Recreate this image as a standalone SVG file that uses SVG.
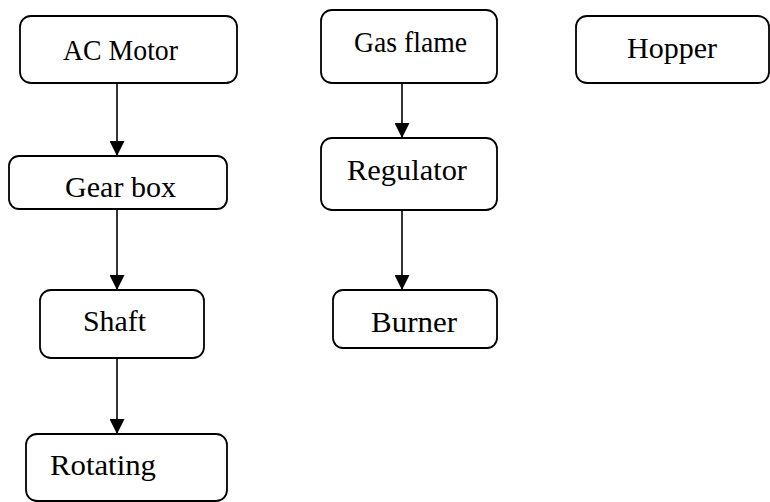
<svg xmlns="http://www.w3.org/2000/svg" width="770" height="502" viewBox="0 0 770 502">
<defs>
<marker id="ah" markerUnits="userSpaceOnUse" markerWidth="15" markerHeight="15" refX="15" refY="7.5" orient="auto" viewBox="0 0 15 15">
<path d="M0,0 L15,7.5 L0,15 z" fill="#000"/>
</marker>
<style>
.box{fill:#fff;stroke:#000;stroke-width:1.8}
.lbl{font-family:"Liberation Serif","Times New Roman",serif;font-size:30px;fill:#000}
.con{stroke:#000;stroke-width:1.6;fill:none;marker-end:url(#ah)}
</style>
</defs>
<rect width="770" height="502" fill="#fff"/>
<g id="connectors">
<line class="con" x1="117" y1="83" x2="117" y2="156"/>
<line class="con" x1="117" y1="209" x2="117" y2="290"/>
<line class="con" x1="117" y1="358" x2="117" y2="434"/>
<line class="con" x1="402" y1="83" x2="402" y2="138"/>
<line class="con" x1="402" y1="210" x2="402" y2="290"/>
</g>
<g id="ac-motor"><rect class="box" x="20" y="16" width="217" height="67" rx="11"/><text class="lbl" x="63" y="60" textLength="115" lengthAdjust="spacingAndGlyphs">AC Motor</text></g>
<g id="gear-box"><rect class="box" x="9" y="156" width="218" height="53" rx="10"/><text class="lbl" x="65" y="197" textLength="111" lengthAdjust="spacingAndGlyphs">Gear box</text></g>
<g id="shaft"><rect class="box" x="40" y="290" width="164" height="68" rx="11"/><text class="lbl" x="83" y="331" textLength="63" lengthAdjust="spacingAndGlyphs">Shaft</text></g>
<g id="rotating"><rect class="box" x="26" y="434" width="201" height="67" rx="11"/><text class="lbl" x="50" y="475" textLength="106" lengthAdjust="spacingAndGlyphs">Rotating</text></g>
<g id="gas-flame"><rect class="box" x="321" y="10" width="176" height="73" rx="11"/><text class="lbl" x="354" y="52" textLength="113" lengthAdjust="spacingAndGlyphs">Gas flame</text></g>
<g id="regulator"><rect class="box" x="321" y="138" width="176" height="72" rx="11"/><text class="lbl" x="347" y="180" textLength="120" lengthAdjust="spacingAndGlyphs">Regulator</text></g>
<g id="burner"><rect class="box" x="333" y="290" width="164" height="58" rx="10"/><text class="lbl" x="371" y="332" textLength="86" lengthAdjust="spacingAndGlyphs">Burner</text></g>
<g id="hopper"><rect class="box" x="576" y="16" width="193" height="67" rx="11"/><text class="lbl" x="627" y="58" textLength="90" lengthAdjust="spacingAndGlyphs">Hopper</text></g>
</svg>
